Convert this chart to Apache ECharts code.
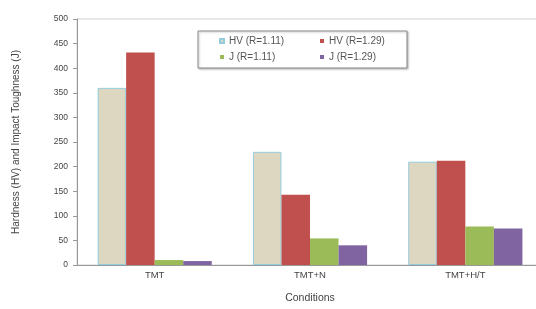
<!DOCTYPE html>
<html>
<head>
<meta charset="utf-8">
<script src="https://cdn.jsdelivr.net/npm/echarts@6/dist/echarts.min.js"></script>
<style>html,body{margin:0;padding:0;background:#fff;overflow:hidden;width:536px;height:309px}#c{width:560px;height:309px}</style>
</head>
<body>
<div id="c"></div>
<script>
const categories = ['TMT', 'TMT+N', 'TMT+H/T'];
const hv111 = [360, 230, 210];
const hv129 = [432, 143, 212];
const j111 = [10, 54, 78];
const j129 = [8, 40, 74];
const yTicks = [0, 50, 100, 150, 200, 250, 300, 350, 400, 450, 500];

const FONT = '"Liberation Sans", Arial, sans-serif';
const chart = echarts.init(document.getElementById('c'), null, {renderer: 'canvas'});
const legendCommon = {
  orient: 'vertical', top: 36, padding: 0, itemGap: 6,
  itemWidth: 4, itemHeight: 4, icon: 'rect', z: 10,
  textStyle: {fontFamily: FONT, fontSize: 10, color: '#555'}
};
chart.setOption({
  animation: false,
  backgroundColor: '#fff',
  grid: {left: 77, top: 19, width: 466, height: 249, show: true, borderColor: '#d0d0d0', borderWidth: 1, backgroundColor: 'transparent'},
  graphic: [{
    type: 'rect', z: 1, shape: {x: 198, y: 31, width: 209, height: 37},
    style: {fill: '#fff', stroke: '#8a8a8a', lineWidth: 1, shadowColor: 'rgba(0,0,0,0.25)', shadowBlur: 2, shadowOffsetX: 1, shadowOffsetY: 1}
  }],
  legend: [
    Object.assign({left: 219, data: ['HV (R=1.11)', 'J (R=1.11)']}, legendCommon),
    Object.assign({left: 320, data: ['HV (R=1.29)', 'J (R=1.29)']}, legendCommon)
  ],
  xAxis: {
    type: 'category', data: categories,
    axisLine: {lineStyle: {color: '#999'}},
    axisTick: {length: 3, lineStyle: {color: '#999'}},
    axisLabel: {fontFamily: FONT, fontSize: 9.5, color: '#444', margin: 5},
    name: 'Conditions', nameLocation: 'middle', nameGap: 28,
    nameTextStyle: {fontFamily: FONT, fontSize: 10.5, color: '#444'}
  },
  yAxis: {
    type: 'value', min: yTicks[0], max: yTicks[yTicks.length - 1], interval: 50,
    axisLine: {show: true, lineStyle: {color: '#999'}},
    axisTick: {show: true, length: 4, lineStyle: {color: '#999'}},
    splitLine: {show: false},
    axisLabel: {fontFamily: FONT, fontSize: 8.5, color: '#444', margin: 9},
    name: 'Hardness (HV) and Impact Toughness (J)', nameLocation: 'middle', nameGap: 56,
    nameTextStyle: {fontFamily: FONT, fontSize: 10, color: '#444'}
  },
  series: [
    {name: 'HV (R=1.11)', type: 'bar', data: hv111, barGap: '0%', barCategoryGap: '26.5%',
     itemStyle: {color: '#DDD7C2', borderColor: '#93CDDD', borderWidth: 1}},
    {name: 'HV (R=1.29)', type: 'bar', data: hv129, barGap: '0%', barCategoryGap: '26.5%',
     itemStyle: {color: '#C0504D'}},
    {name: 'J (R=1.11)', type: 'bar', data: j111, barGap: '0%', barCategoryGap: '26.5%',
     itemStyle: {color: '#9BBB59'}},
    {name: 'J (R=1.29)', type: 'bar', data: j129, barGap: '0%', barCategoryGap: '26.5%',
     itemStyle: {color: '#8064A2'}}
  ]
});
</script>
</body>
</html>
